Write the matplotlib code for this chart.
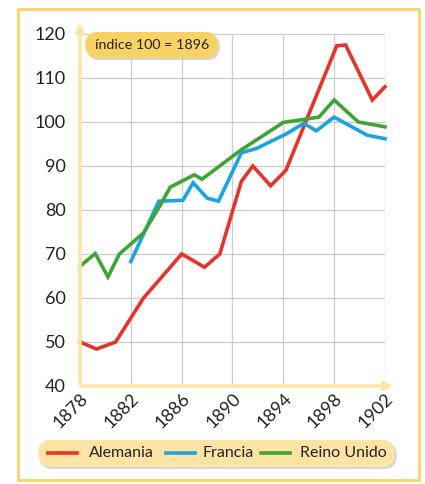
import matplotlib.pyplot as plt
import matplotlib.transforms as mtransforms
from matplotlib.patches import FancyBboxPatch, Rectangle
from matplotlib.lines import Line2D

plt.rcParams['font.family'] = ['Lato', 'DejaVu Sans']

# datos (índice 100 = 1896)
alemania_x = [1878, 1879.3, 1880.8, 1883, 1886, 1887.8, 1889, 1890.7, 1891.6, 1893, 1894.2, 1898.2, 1898.9, 1901, 1902]
alemania_y = [50, 48.4, 50, 60, 70, 67, 70, 86.5, 90, 85.5, 89, 117.3, 117.5, 105, 108]

francia_x = [1882, 1884.2, 1886.1, 1886.9, 1888, 1888.9, 1890.7, 1891.9, 1894.3, 1895.6, 1896.6, 1898, 1900.6, 1902]
francia_y = [68.3, 82, 82.2, 86.2, 82.7, 82, 93, 94, 97.4, 99.7, 98, 101.1, 97, 96.2]

reino_x = [1878, 1879.2, 1880.2, 1881.1, 1883, 1884.3, 1885.1, 1887, 1887.6, 1890.7, 1894, 1896.8, 1898, 1899.9, 1902]
reino_y = [67.2, 70.1, 64.8, 70, 74.8, 81, 85.2, 88, 87, 93.7, 99.9, 101.1, 105, 100, 98.9]

years = [1878, 1882, 1886, 1890, 1894, 1898, 1902]
yticks = [40, 50, 60, 70, 80, 90, 100, 110, 120]

red = '#e8332b'
blue = '#1ba4e0'
green = '#3ea535'
axis_yellow = '#fde5a6'
frame_yellow = '#fad46a'

fig = plt.figure(figsize=(4.25, 4.84), dpi=100)
fig.patches.append(Rectangle((18 / 425, 4 / 484), 401 / 425, 471 / 484, transform=fig.transFigure,
                             fill=False, edgecolor=frame_yellow, linewidth=2))

ax = fig.add_axes([80 / 425, 98 / 484, 305 / 425, 352 / 484])
ax.set_xlim(1878, 1902)
ax.set_ylim(40, 120)
for s in ax.spines.values():
    s.set_visible(False)

ax.set_xticks(years)
ax.set_yticks(yticks)
ax.grid(True, color='#cccccc', linewidth=0.9)
ax.set_axisbelow(True)
ax.tick_params(length=0, labelsize=13, colors='#222222')
ax.tick_params(axis='y', pad=10)
ax.tick_params(axis='x', pad=3)
ax.set_xticklabels([str(y) for y in years], rotation=45, ha='center', va='top')
shift = mtransforms.ScaledTranslation(-9 / 100, 0, fig.dpi_scale_trans)
for lab in ax.get_xticklabels():
    lab.set_transform(lab.get_transform() + shift)

# ejes con flechas
ax.annotate('', xy=(80 / 425, 464 / 484), xytext=(80 / 425, 97 / 484), xycoords='figure fraction',
            textcoords='figure fraction',
            arrowprops=dict(arrowstyle='-|>', color=axis_yellow, lw=2.5, mutation_scale=12))
ax.annotate('', xy=(396 / 425, 98 / 484), xytext=(79 / 425, 98 / 484), xycoords='figure fraction',
            textcoords='figure fraction',
            arrowprops=dict(arrowstyle='-|>', color=axis_yellow, lw=2.5, mutation_scale=12))

ax.plot(alemania_x, alemania_y, color=red, lw=2.6, solid_joinstyle='miter', clip_on=False)
ax.plot(francia_x, francia_y, color=blue, lw=2.6, solid_joinstyle='miter', clip_on=False)
ax.plot(reino_x, reino_y, color=green, lw=2.6, solid_joinstyle='miter', clip_on=False)

# etiqueta índice
fig.patches.append(FancyBboxPatch((87 / 425, 424 / 484), 133 / 425, 26 / 484, transform=fig.transFigure,
                                  boxstyle='round,pad=0,rounding_size=0.03', facecolor='#bbbbbb',
                                  edgecolor='none', alpha=0.6))
fig.patches.append(FancyBboxPatch((85 / 425, 426 / 484), 133 / 425, 26 / 484, transform=fig.transFigure,
                                  boxstyle='round,pad=0,rounding_size=0.03', facecolor='#f9d264',
                                  edgecolor='none'))
fig.text(152 / 425, 439 / 484, 'índice 100 = 1896', ha='center', va='center', fontsize=10.3, color='#222222')

# leyenda
fig.patches.append(FancyBboxPatch((40 / 425, 15 / 484), 357 / 425, 27 / 484, transform=fig.transFigure,
                                  boxstyle='round,pad=0,rounding_size=0.03', facecolor='#bbbbbb',
                                  edgecolor='none', alpha=0.6))
fig.patches.append(FancyBboxPatch((38 / 425, 17 / 484), 357 / 425, 27 / 484, transform=fig.transFigure,
                                  boxstyle='round,pad=0,rounding_size=0.03', facecolor='#fde3a4',
                                  edgecolor='none'))
entries = [('Alemania', red, 48, 89), ('Francia', blue, 166, 203), ('Reino Unido', green, 261, 300)]
for name, col, x0, tx in entries:
    fig.lines.append(Line2D([x0 / 425, (x0 + 29) / 425], [31 / 484, 31 / 484], transform=fig.transFigure,
                            color=col, lw=2.6))
    fig.text(tx / 425, 31 / 484, name, ha='left', va='center', fontsize=11.5, color='#222222')

fig.savefig('out.png', dpi=100)
